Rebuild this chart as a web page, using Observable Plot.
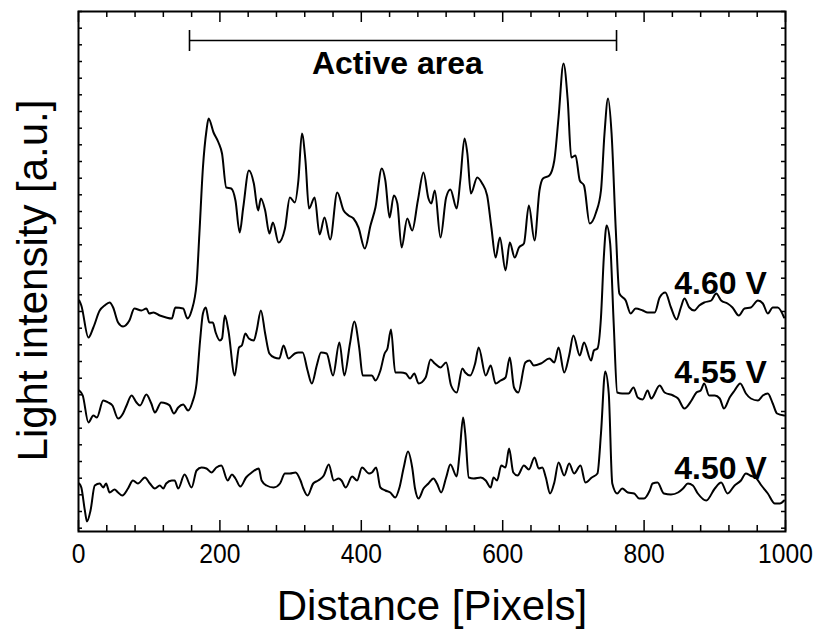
<!DOCTYPE html>
<html><head><meta charset="utf-8">
<script src="https://cdn.jsdelivr.net/npm/d3@7"></script>
<script src="https://cdn.jsdelivr.net/npm/@observablehq/plot@0.6"></script>
<style>body{margin:0;background:#fff}</style>
</head><body><div id="chart"></div>
<script>
// Light intensity profiles (x: distance in pixels, y: intensity in a.u.)
const v460 = [[1,231],[4,226],[14,194],[21,204],[30,221],[37,226],[44,229],[49,224],[56,209],[63,205],[72,211],[79,223],[89,221],[96,223],[100,218],[106,219],[115,216],[124,214],[132,213],[137,224],[148,223],[154,213],[160,221],[167,248],[171,298],[176,364],[181,401],[184,413],[191,399],[198,389],[203,378],[209,344],[216,343],[222,331],[228,299],[233,324],[241,361],[248,348],[254,321],[258,333],[264,321],[270,298],[275,309],[283,289],[292,303],[299,334],[306,329],[311,351],[316,398],[321,371],[326,323],[334,334],[341,297],[348,314],[356,292],[366,339],[375,321],[382,316],[389,313],[396,304],[405,283],[413,306],[420,324],[429,363],[434,351],[440,314],[446,336],[451,328],[457,284],[465,313],[472,301],[480,331],[488,359],[495,333],[499,328],[504,341],[512,294],[520,334],[526,342],[535,323],[540,351],[546,393],[550,378],[555,338],[564,354],[571,348],[578,336],[584,304],[590,274],[596,294],[604,261],[610,289],[617,274],[623,284],[630,288],[637,326],[645,291],[652,341],[657,353],[666,356],[673,371],[679,414],[686,468],[692,431],[697,374],[703,376],[709,351],[715,346],[723,308],[732,319],[739,341],[744,398],[749,433],[754,398],[760,301],[765,238],[774,231],[781,218],[788,223],[798,221],[805,219],[815,219],[822,234],[830,239],[838,224],[846,212],[852,224],[857,233],[864,224],[871,221],[878,226],[885,229],[895,231],[902,238],[909,231],[918,228],[925,224],[934,216],[942,223],[951,224],[961,231],[968,228],[975,218],[982,224],[989,224],[998,214]];
const v455 = [[1,141],[6,136],[14,109],[21,116],[26,114],[35,131],[42,129],[48,126],[56,113],[63,118],[68,126],[75,136],[82,129],[87,126],[96,137],[103,128],[108,119],[117,129],[124,128],[129,126],[135,118],[141,124],[148,127],[155,121],[161,129],[167,148],[172,191],[176,218],[180,224],[185,209],[190,209],[194,199],[200,191],[203,193],[207,216],[212,201],[221,156],[227,184],[231,186],[236,198],[241,193],[248,191],[252,201],[258,221],[264,198],[270,178],[277,174],[284,173],[290,186],[297,173],[306,178],[311,179],[317,179],[324,161],[330,148],[337,166],[343,179],[351,178],[360,156],[369,189],[376,156],[384,188],[390,210],[397,184],[402,156],[415,156],[420,151],[427,161],[433,178],[437,183],[442,202],[448,159],[456,159],[463,158],[469,153],[475,158],[481,148],[491,154],[498,172],[504,168],[512,164],[520,169],[527,146],[535,139],[543,163],[547,159],[554,156],[561,168],[566,184],[576,156],[583,166],[590,148],[597,151],[604,154],[610,174],[616,144],[622,139],[632,169],[638,171],[644,166],[654,168],[666,173],[673,169],[679,184],[687,159],[694,176],[700,196],[709,176],[715,189],[725,171],[729,181],[734,183],[739,214],[743,274],[747,306],[752,288],[757,208],[762,139],[769,138],[778,138],[785,144],[791,134],[798,132],[805,141],[810,133],[822,146],[829,139],[841,136],[848,133],[857,123],[867,131],[874,139],[880,141],[885,148],[892,136],[900,136],[907,133],[913,123],[921,134],[928,141],[936,148],[944,138],[951,133],[961,131],[968,136],[975,138],[982,128],[988,118],[998,116]];
const v450 = [[1,48],[4,44],[9,21],[12,10],[17,21],[23,46],[30,48],[35,44],[39,48],[44,39],[51,42],[56,39],[62,36],[70,43],[77,51],[84,48],[94,54],[101,48],[108,43],[115,46],[120,43],[124,48],[132,51],[136,51],[141,43],[150,57],[160,44],[167,61],[174,64],[181,63],[188,59],[195,64],[202,66],[211,51],[217,57],[222,53],[229,45],[237,54],[245,59],[255,63],[259,51],[266,46],[276,44],[285,48],[292,58],[299,58],[307,59],[314,51],[318,43],[324,36],[332,48],[339,51],[347,56],[354,67],[361,51],[368,53],[372,51],[378,44],[387,55],[394,51],[401,64],[411,58],[415,59],[421,64],[427,44],[434,41],[441,39],[448,34],[454,44],[460,64],[466,80],[472,64],[476,43],[481,33],[488,43],[495,48],[502,53],[507,48],[513,39],[520,54],[526,67],[535,55],[539,78],[544,114],[547,98],[552,54],[559,53],[569,54],[576,51],[583,44],[587,54],[592,51],[598,66],[604,64],[609,83],[615,59],[621,56],[630,66],[637,62],[645,74],[651,63],[656,64],[661,54],[667,38],[673,49],[679,69],[687,56],[694,68],[701,58],[710,66],[717,49],[726,54],[734,58],[739,98],[745,160],[750,138],[755,48],[762,38],[769,43],[777,39],[786,38],[793,33],[800,33],[808,41],[812,48],[819,49],[828,38],[838,37],[848,39],[855,43],[862,48],[869,46],[876,38],[888,31],[900,43],[909,49],[918,38],[928,46],[937,51],[944,58],[950,56],[959,53],[966,46],[975,38],[985,28],[992,28],[998,31]];

const seriesLabels = ["4.60 V", "4.55 V", "4.50 V"];
const seriesLabelX = [908, 908, 908];
const seriesLabelY = [238, 149, 53];

const xMajorTicks = [0, 200, 400, 600, 800, 1000];
const xTickLabels = ["0", "200", "400", "600", "800", "1000"];
const xMinorTicks = [40, 80, 120, 160, 240, 280, 320, 360, 440, 480, 520, 560, 640, 680, 720, 760, 840, 880, 920, 960];
const yMinorTicks = [520, 503.3, 486.7, 470, 453.3, 436.7, 420, 403.3, 386.7, 370, 353.3, 336.7, 320, 303.3, 286.7, 270, 253.3, 236.7, 220, 203.3, 186.7, 170, 153.3, 136.7, 120, 103.3, 86.7, 70, 53.3, 36.7, 20, 3.3];

const activeAreaX = [157, 761];
const activeAreaY = [491];
const activeAreaCap = [480, 501];
const activeAreaLabel = ["Active area"];
const activeAreaLabelX = [451];
const activeAreaLabelY = [458];

const xTitle = "Distance [Pixels]";
const yTitle = "Light intensity [a.u.]";

const W = 815, H = 629, mL = 78, mR = 30, mT = 11, mB = 98;
const fw = W - mL - mR, fh = H - mT - mB;
const font = "'Liberation Sans', Arial, Helvetica, sans-serif";

const lbl = seriesLabels.map((t, i) => ({t, x: seriesLabelX[i], y: seriesLabelY[i]}));
const aal = activeAreaLabel.map((t, i) => ({t, x: activeAreaLabelX[i], y: activeAreaLabelY[i]}));

const chart = Plot.plot({
  width: W, height: H,
  marginLeft: mL, marginRight: mR, marginTop: mT, marginBottom: mB,
  x: {domain: [0, 1000]},
  y: {domain: [0, 520], axis: null},
  style: {background: "white", color: "black", fontFamily: font},
  marks: [
    // ticks (inward, all four sides)
    Plot.tickX(xMajorTicks, {x: d => d, insetTop: fh - 11, strokeWidth: 1.5}),
    Plot.tickX(xMajorTicks, {x: d => d, insetBottom: fh - 11, strokeWidth: 1.5}),
    Plot.tickX(xMinorTicks, {x: d => d, insetTop: fh - 6, strokeWidth: 1.5}),
    Plot.tickX(xMinorTicks, {x: d => d, insetBottom: fh - 6, strokeWidth: 1.5}),
    Plot.tickY(yMinorTicks, {y: d => d, insetRight: fw - 4, strokeWidth: 1.5}),
    Plot.tickY(yMinorTicks, {y: d => d, insetLeft: fw - 4, strokeWidth: 1.5}),
    Plot.frame({strokeWidth: 2}),
    Plot.axisX(xMajorTicks, {tickSize: 0, tickPadding: 12, fontSize: 28, label: null, tickFormat: (d, i) => xTickLabels[i], fontFamily: font}),
    // curves
    Plot.line(v460, {x: d => d[0], y: d => d[1], curve: "monotone-x", strokeWidth: 2}),
    Plot.line(v455, {x: d => d[0], y: d => d[1], curve: "monotone-x", strokeWidth: 2}),
    Plot.line(v450, {x: d => d[0], y: d => d[1], curve: "monotone-x", strokeWidth: 2}),
    // active area bracket
    Plot.ruleY(activeAreaY, {x1: activeAreaX[0], x2: activeAreaX[1], y: d => d, strokeWidth: 1.6}),
    Plot.ruleX(activeAreaX, {x: d => d, y1: activeAreaCap[0], y2: activeAreaCap[1], strokeWidth: 1.6}),
    Plot.text(aal, {x: "x", y: "y", text: "t", fontSize: 32, fontWeight: "bold", lineAnchor: "bottom", textAnchor: "middle"}),
    Plot.text(lbl, {x: "x", y: "y", text: "t", fontSize: 32, fontWeight: "bold", lineAnchor: "bottom", textAnchor: "middle"}),
    // axis titles
    Plot.text([xTitle], {frameAnchor: "bottom", dy: 88, fontSize: 42, textAnchor: "middle"}),
    Plot.text([yTitle], {frameAnchor: "left", rotate: -90, dx: -45, dy: 9, fontSize: 42, textAnchor: "middle"})
  ]
});
// slightly condensed tick labels, as in the reference
d3.select(chart).selectAll('g[aria-label="x-axis tick label"] text').each(function() {
  const t = this.getAttribute("transform") || "";
  this.setAttribute("transform", t + " scale(0.88,1)");
});
document.getElementById("chart").append(chart);
</script>
</body></html>
